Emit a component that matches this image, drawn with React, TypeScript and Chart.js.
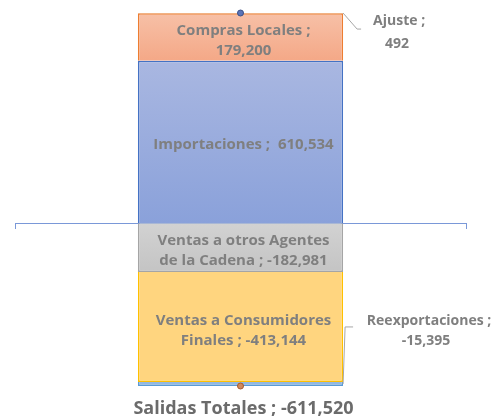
import React, { useEffect, useRef } from "react";
import { Chart, registerables } from "chart.js";

Chart.register(...registerables);

const categories = ["Balance"];
const importaciones = [610534];
const comprasLocales = [179200];
const ajuste = [492];
const ventasAgentes = [-182981];
const ventasConsumidores = [-413144];
const reexportaciones = [-15395];
const entradasTotales = [790226];
const salidasTotales = [-611520];

const labelLines: Record<string, string[]> = {
  "Compras Locales": ["Compras Locales ;", "179,200"],
  "Importaciones": ["Importaciones ;  610,534"],
  "Ajuste": ["Ajuste ;", "492"],
  "Ventas a otros Agentes de la Cadena": ["Ventas a otros Agentes", "de la Cadena ; -182,981"],
  "Ventas a Consumidores Finales": ["Ventas a Consumidores", "Finales ; -413,144"],
  "Reexportaciones": ["Reexportaciones ;", "-15,395"],
  "Salidas Totales": ["Salidas Totales ; -611,520"],
};

function grad(ctx: any, from: number, to: number, c1: string, c2: string) {
  const chart = ctx.chart;
  const y = chart.scales && chart.scales.y;
  if (!y || !chart.chartArea) return c1;
  const p1 = y.getPixelForValue(from);
  const p2 = y.getPixelForValue(to);
  const g = chart.ctx.createLinearGradient(0, p1, 0, p2);
  g.addColorStop(0, c1);
  g.addColorStop(1, c2);
  return g;
}

const FONT = "'Open Sans', sans-serif";

const labelPlugin = {
  id: "labelPlugin",
  afterDatasetsDraw(chart: any) {
    const ctx = chart.ctx;
    ctx.save();
    ctx.textAlign = "center";
    ctx.textBaseline = "middle";
    chart.data.datasets.forEach((ds: any, i: number) => {
      const meta = chart.getDatasetMeta(i);
      const lines = labelLines[ds.label];
      if (!lines) return;
      meta.data.forEach((el: any) => {
        if (ds.label === "Salidas Totales") {
          ctx.fillStyle = "#6b6b6b";
          ctx.font = `bold 18px ${FONT}`;
          ctx.fillText(lines[0], el.x + 3, el.y + 23);
          return;
        }
        const right = el.x + el.width / 2;
        const cy = (el.y + el.base) / 2;
        ctx.fillStyle = "#7f7f7f";
        ctx.font = `bold 15px ${FONT}`;
        if (ds.label === "Ajuste") {
          ctx.strokeStyle = "#a6a6a6";
          ctx.lineWidth = 1;
          ctx.beginPath();
          ctx.moveTo(right, cy);
          ctx.lineTo(right + 14, cy + 16);
          ctx.lineTo(right + 18, cy + 16);
          ctx.stroke();
          ctx.font = `bold 14px ${FONT}`;
          ctx.fillText(lines[0], right + 56, cy + 8);
          ctx.fillText(lines[1], right + 54, cy + 31);
          return;
        }
        if (ds.label === "Reexportaciones") {
          ctx.strokeStyle = "#a6a6a6";
          ctx.lineWidth = 1;
          ctx.beginPath();
          ctx.moveTo(right, cy);
          ctx.lineTo(right + 2, cy - 57);
          ctx.lineTo(right + 10, cy - 57);
          ctx.stroke();
          ctx.font = `bold 14px ${FONT}`;
          ctx.fillText(lines[0], right + 86, cy - 63);
          ctx.fillText(lines[1], right + 83, cy - 43);
          return;
        }
        const lh = 20;
        const extra = ds.label === "Compras Locales" ? 4 : ds.label === "Ventas a Consumidores Finales" ? 4 : 3;
        const start = cy - ((lines.length - 1) * lh) / 2 + extra;
        lines.forEach((t, k) => ctx.fillText(t, el.x + 3, start + k * lh));
      });
    });
    ctx.restore();
  },
};

export default function App() {
  const ref = useRef<HTMLCanvasElement>(null);
  useEffect(() => {
    document.body.style.margin = "0";
    const chart = new Chart(ref.current!, {
      type: "bar",
      data: {
        labels: categories,
        datasets: [
          {
            label: "Importaciones",
            data: importaciones,
            backgroundColor: (c: any) => grad(c, importaciones[0], 0, "#a9b7e1", "#8aa1da"),
            borderColor: "#4472c4",
            borderWidth: 1.5,
            stack: "s",
            order: 2,
          },
          {
            label: "Compras Locales",
            data: comprasLocales,
            backgroundColor: (c: any) => grad(c, entradasTotales[0], importaciones[0], "#f7c0a7", "#f4a887"),
            borderColor: "#ed7d31",
            borderWidth: 1.5,
            stack: "s",
            order: 2,
          },
          {
            label: "Ajuste",
            data: ajuste,
            backgroundColor: "#70ad47",
            borderColor: "#70ad47",
            borderWidth: 1,
            stack: "s",
            order: 2,
          },
          {
            label: "Ventas a otros Agentes de la Cadena",
            data: ventasAgentes,
            backgroundColor: (c: any) => grad(c, 0, ventasAgentes[0], "#d2d2d2", "#c4c4c4"),
            borderColor: "#a5a5a5",
            borderWidth: 1.5,
            stack: "s",
            order: 2,
          },
          {
            label: "Ventas a Consumidores Finales",
            data: ventasConsumidores,
            backgroundColor: "#ffd57f",
            borderColor: "#ffc000",
            borderWidth: 1.5,
            stack: "s",
            order: 2,
          },
          {
            label: "Reexportaciones",
            data: reexportaciones,
            backgroundColor: "#92b8e2",
            borderColor: "#5b9bd5",
            borderWidth: 1.5,
            stack: "s",
            order: 2,
          },
          {
            type: "line",
            label: "Entradas Totales",
            data: entradasTotales,
            showLine: false,
            pointRadius: 3,
            pointBackgroundColor: "#5a74b8",
            pointBorderColor: "#3a4f86",
            pointBorderWidth: 1,
            stack: "t1",
            order: 0,
            clip: false,
          } as any,
          {
            type: "line",
            label: "Salidas Totales",
            data: salidasTotales,
            showLine: false,
            pointRadius: 3,
            pointBackgroundColor: "#d08a5e",
            pointBorderColor: "#a55a2e",
            pointBorderWidth: 1,
            stack: "t2",
            order: 0,
            clip: false,
          } as any,
        ],
      },
      options: {
        responsive: false,
        animation: false,
        layout: { padding: { left: 15, right: 27, top: 13, bottom: 30 } },
        plugins: { legend: { display: false }, tooltip: { enabled: false } },
        datasets: { bar: { barPercentage: 1, categoryPercentage: 0.455 } },
        scales: {
          x: {
            position: { y: 0 } as any,
            offset: true,
            grid: { drawOnChartArea: false, drawTicks: true, tickLength: 5, color: "#7a98d8", offset: true },
            border: { color: "#7a98d8", width: 1 },
            ticks: { display: false },
          },
          y: {
            display: false,
            stacked: true,
            min: salidasTotales[0],
            max: entradasTotales[0],
          },
        },
      },
      plugins: [labelPlugin],
    });
    return () => chart.destroy();
  }, []);
  return (
    <div style={{ width: 493, height: 416 }}>
      <canvas ref={ref} width={493} height={416} />
    </div>
  );
}
